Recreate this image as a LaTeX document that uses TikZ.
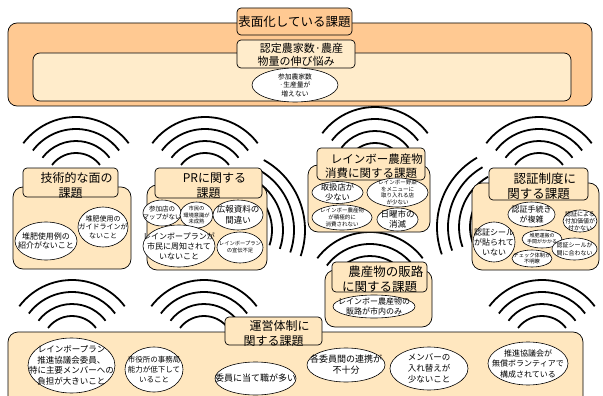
\documentclass[tikz,border=0pt]{standalone}
\usepackage{fontspec}
\setmainfont{Noto Sans CJK JP}
\usetikzlibrary{shapes.geometric}
\definecolor{orangeC}{HTML}{FFC992}
\definecolor{creamC}{HTML}{FFE7BF}
\definecolor{creamL}{HTML}{FFECCB}
\newcommand\fz[2]{\fontsize{#1}{#2}\selectfont}
\newcommand\wifi[5]{\foreach \rr in {#4}{\draw[wave] (#1,#2) ++({#3-#5}:\rr) arc[start angle={#3-#5}, end angle={#3+#5}, radius=\rr];}}
\newcommand\elp[6]{\node[ell, wh={#3}{#4}] (#1) at (#2) {}; \node[lbl, font=#5] (#1t) at (#1.center) {#6};}
\tikzset{
  obox/.style={draw, line width=0.7pt, fill=orangeC, rounded corners=9pt, inner sep=0pt},
  ibox/.style={draw, line width=0.7pt, fill=creamL, rounded corners=7pt, inner sep=0pt},
  bbox/.style={draw, line width=0.7pt, fill=creamC, rounded corners=10pt, inner sep=0pt},
  tbox/.style={draw, line width=0.7pt, fill=creamC, rounded corners=4pt, inner sep=0pt},
  tboxo/.style={tbox, fill=orangeC},
  ell/.style={draw, line width=0.6pt, fill=white, ellipse, inner sep=0pt},
  lbl/.style={align=center, inner sep=0pt},
  wave/.style={line width=1.8pt},
  wh/.style 2 args={minimum width=#1pt, minimum height=#2pt},
}
\begin{document}
\begin{tikzpicture}[x=1pt,y=-1pt]
\useasboundingbox (0,0) rectangle (603,396);
\clip (0,0) rectangle (603,396);
% signal arcs
\wifi{76}{183}{-90}{66,54,42,30}{53}
\wifi{205}{183}{-90}{66,54,42,30}{53}
\wifi{375}{173}{-90}{66,54,42,30}{53}
\wifi{539}{183}{-90}{66,54,42,30}{53}
\wifi{72}{346}{-90}{66,54,42,30}{53}
\wifi{204}{346}{-90}{66,54,42,30}{53}
\wifi{542}{346}{-90}{66,54,42,30}{53}
\wifi{370}{298}{-90}{66,54,42,30}{53}
\wifi{225}{230}{-21}{80,69,58,47}{40}
\wifi{517}{227}{200}{80,69,58,47}{40}
% top
\node[obox, wh={584}{83}] (outer) at (300,64.5) {};
\node[ibox, wh={538}{48}] (inner) at (302,77) {};
\node[tboxo, wh={115}{27}] (t0) at (294.5,21.5) {};
\node[lbl, font=\fz{12.5}{15}] (t0t) at (t0.center) {表面化している課題};
\node[tbox, fill=creamL, wh={118}{28}] (t1) at (296,54) {};
\node[lbl, font=\fz{11}{13.5}] (t1t) at (296,55) {　認定農家数·農産\\物量の伸び悩み};
\elp{s1}{295,85}{86}{34}{\fz{6.8}{8.5}}{参加農家数\\·生産量が\\増えない}
% technical
\node[bbox, wh={118}{82}] (gb) at (72,228) {};
\node[tbox, wh={95}{29}] (gt) at (70.5,182.5) {};
\node[lbl, font=\fz{12}{15}] (gtt) at (70.5,185) {　技術的な面の\\課題};
\elp{e1}{46,241}{62}{38}{\fz{8}{9.5}}{堆肥使用例の\\紹介がないこと}
\elp{e2}{103,227}{50}{40}{\fz{7}{8.5}}{堆肥使用の\\ガイドラインが\\ないこと}
% PR
\node[bbox, wh={120}{85}] (pb) at (207,227.5) {};
\node[tbox, wh={107}{30}] (pt) at (208.5,183) {};
\node[lbl, font=\fz{12}{15}] (ptt) at (208.5,186) {　PRに関する\\課題};
\elp{p1}{162,213}{38}{26}{\fz{6.5}{8}}{参加店の\\マップがない}
\elp{p2}{196.5,215}{33}{26}{\fz{5.3}{6.5}}{市民の\\環境意識が\\未成熟}
\elp{p3}{238,215}{50}{30}{\fz{8.5}{10.5}}{広報資料の\\間違い}
\elp{p4}{179,246}{72}{42}{\fz{8}{10}}{レインボープランが\\市民に周知されて\\いないこと}
\elp{p5}{240,247.5}{46}{31}{\fz{5.3}{7}}{レインボープラン\\の宣伝不足}
% consumption
\node[bbox, wh={122}{67}] (cb) at (369,198.5) {};
\node[tbox, wh={108}{32}] (ct) at (371,164) {};
\node[lbl, font=\fz{11.5}{14}] (ctt) at (371,166.5) {　レインボー農産物\\消費に関する課題};
\elp{c1}{337.5,192.5}{51}{22}{\fz{8.3}{9.5}}{取扱店が\\少ない}
\elp{c2}{397.5,192.5}{61}{29}{\fz{5.5}{6.5}}{レインボー野菜\\をメニューに\\取り入れる店\\が少ない}
\elp{c3}{342,217.5}{60}{25}{\fz{5.5}{6.8}}{レインボー農産物\\が積極的に\\消費されない}
\elp{c4}{397.5,219.5}{41}{23}{\fz{8.5}{10}}{日曜市の\\消滅}
% certification
\node[bbox, wh={127}{87}] (nb) at (535.5,226.5) {};
\node[tbox, wh={99}{32}] (nt) at (538.5,184) {};
\node[lbl, font=\fz{12.5}{15}] (ntt) at (538.5,186) {　認証制度に\\関する課題};
\elp{n1}{531.5,214.5}{47}{25}{\fz{8}{10}}{認証手続き\\が複雑}
\elp{n2}{580,221}{34}{22}{\fz{6}{7}}{認証による\\付加価値が\\付かない}
\elp{n3}{494,242}{42}{40}{\fz{8}{10}}{認証シール\\が貼られて\\いない}
\elp{n4}{542,239}{40}{18}{\fz{5}{6}}{堆肥運搬の\\手間がかかる}
\elp{n5}{574.5,249}{45}{22}{\fz{6}{7.5}}{認証シールが\\間に合わない}
\elp{n6}{532,258.5}{40}{17}{\fz{5.3}{6.5}}{チェック体制が\\不明瞭}
% sales channel
\node[bbox, wh={107}{57}] (hb) at (378.5,298.5) {};
\node[tbox, wh={95}{30}] (ht) at (379.5,277) {};
\node[lbl, font=\fz{12.5}{15}] (htt) at (379.5,279) {　農産物の販路\\に関する課題};
\elp{h1}{374,306.5}{82}{23}{\fz{8}{9.5}}{レインボー農産物の\\販路が市内のみ}
% management
\node[bbox, wh={575}{78}] (mb) at (295.5,371) {};
\node[tbox, wh={97}{28}] (mt) at (273.5,331) {};
\node[lbl, font=\fz{12}{15}] (mtt) at (273.5,333) {　運営体制に\\関する課題};
\elp{b1}{71.5,365.5}{87}{55}{\fz{8.5}{10.5}}{レインボープラン\\推進協議会委員、\\特に主要メンバーへの\\負担が大きいこと}
\elp{b2}{154,369.5}{58}{45}{\fz{7.5}{10}}{市役所の事務局\\能力が低下して\\いること}
\elp{b3}{255.5,378.5}{81}{33}{\fz{9}{11}}{委員に当て職が多い}
\elp{b4}{346,365}{78}{34}{\fz{9}{11}}{各委員間の連携が\\不十分}
\elp{b5}{429,368.5}{78}{43}{\fz{8.5}{11}}{メンバーの\\入れ替えが\\少ないこと}
\elp{b6}{528,363.5}{80}{43}{\fz{8}{10.5}}{推進協議会が\\無償ボランティアで\\構成されている}
\end{tikzpicture}
\end{document}
